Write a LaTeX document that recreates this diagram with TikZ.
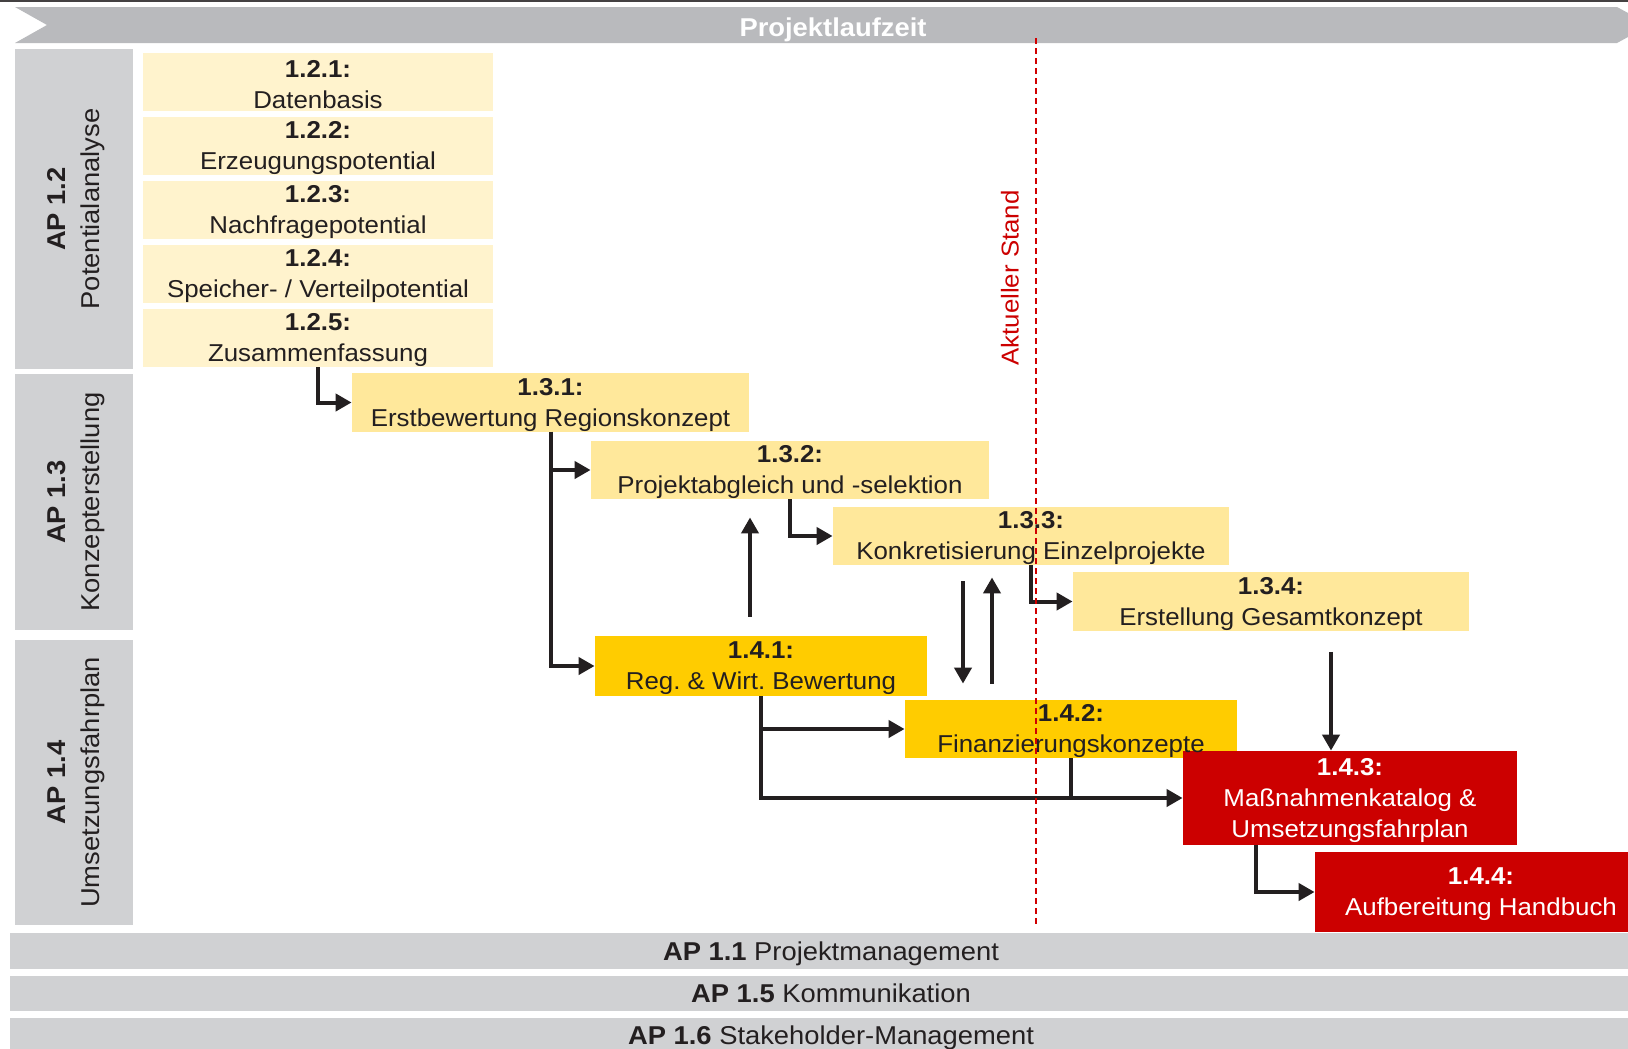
\documentclass[tikz,border=0pt]{standalone}
\usepackage{fontspec}
\setmainfont{Liberation Sans}[FakeStretch=1.06]
\usetikzlibrary{arrows.meta}

\definecolor{ink}{HTML}{231F20}
\definecolor{apgray}{HTML}{D0D1D3}
\definecolor{timegray}{HTML}{B9BABD}
\definecolor{palecol}{HTML}{FFF3CD}
\definecolor{lightcol}{HTML}{FFE89B}
\definecolor{goldcol}{HTML}{FFCC00}
\definecolor{redcol}{HTML}{CC0000}

% bold head line of a box, a bit lower
\newcommand{\wpnum}[1]{\rule{0pt}{11pt}\textbf{#1}}

\begin{document}
\begin{tikzpicture}[x=0.5pt,y=-0.5pt,
  font=\fontsize{12.2}{15.5}\selectfont,
  task/.style={rectangle, inner sep=0pt, align=center, text=ink},
  potbox/.style={task, fill=palecol, minimum width=175pt, minimum height=29pt},
  konbox/.style={task, fill=lightcol, minimum height=28.5pt},
  umsbox/.style={task, fill=goldcol, minimum width=166pt},
  redbox/.style={task, fill=redcol, text=white},
  apbox/.style={rectangle, fill=apgray, inner sep=0pt, align=center, text=ink,
    rotate=90, minimum height=59.25pt, font=\fontsize{12.9}{17}\selectfont},
  barbox/.style={rectangle, fill=apgray, inner sep=0pt, text=ink,
    minimum width=821pt, minimum height=17.5pt, font=\fontsize{12.9}{15}\selectfont,
    text height=12pt, text depth=2.7pt},
  arr/.style={-{Triangle[length=8pt,width=8.5pt]}, line width=2pt, draw=ink},
  ]
 \fill[white] (0,0) rectangle (1628,1049);
 \useasboundingbox (0,0) rectangle (1628,1049);

 % time bar
 \draw[ink!85, line width=1pt] (0,1) -- (1628,1);
 \fill[timegray] (15,7) -- (1617,7) -- (1650,25) -- (1617,43) -- (15,43) -- (47,25) -- cycle;
 \node[text=white, font=\fontsize{12.9}{15}\bfseries, text height=12pt, text depth=1pt] (title) at (833,25) {Projektlaufzeit};

 % work packages
 \node[apbox, minimum width=160pt] (ap12) at (74,209) {\wpnum{AP 1.2}\\Potentialanalyse};
 \node[apbox, minimum width=128pt] (ap13) at (74,502) {\wpnum{AP 1.3}\\Konzepterstellung};
 \node[apbox, minimum width=142.5pt] (ap14) at (74,782.5) {\wpnum{AP 1.4}\\Umsetzungsfahrplan};

 \node[barbox, minimum height=18pt] (ap11) at (831,951) {\textbf{AP 1.1} Projektmanagement};
 \node[barbox] (ap15) at (831,993.5) {\textbf{AP 1.5} Kommunikation};
 \node[barbox] (ap16) at (831,1035.5) {\textbf{AP 1.6} Stakeholder-Management};

 % AP 1.2
 \node[potbox] (n121) at (318,82) {\wpnum{1.2.1:}\\Datenbasis};
 \node[potbox] (n122) at (318,146) {\wpnum{1.2.2:}\\Erzeugungspotential};
 \node[potbox] (n123) at (318,210) {\wpnum{1.2.3:}\\Nachfragepotential};
 \node[potbox] (n124) at (318,274) {\wpnum{1.2.4:}\\Speicher- / Verteilpotential};
 \node[potbox] (n125) at (318,338) {\wpnum{1.2.5:}\\Zusammenfassung};

 % AP 1.3
 \node[konbox, minimum width=198.5pt] (n131) at (550.5,402.5) {\wpnum{1.3.1:}\\Erstbewertung Regionskonzept};
 \node[konbox, minimum width=199pt] (n132) at (790,470) {\wpnum{1.3.2:}\\Projektabgleich und -selektion};
 \node[konbox, minimum width=198pt] (n133) at (1031,536) {\wpnum{1.3.3:}\\Konkretisierung Einzelprojekte};
 \node[konbox, minimum width=198pt] (n134) at (1271,601.5) {\wpnum{1.3.4:}\\Erstellung Gesamtkonzept};

 % AP 1.4
 \node[umsbox, minimum height=30pt] (n141) at (761,666) {\wpnum{1.4.1:}\\Reg.\ \& Wirt.\ Bewertung};
 \node[umsbox, minimum height=29pt] (n142) at (1071,729) {};
 \node[redbox, minimum width=167pt, minimum height=47pt] (n143) at (1350,798) {\wpnum{1.4.3:}\\Maßnahmenkatalog \&\\Umsetzungsfahrplan};
 \node[task] at (n142) {\wpnum{1.4.2:}\\Finanzierungskonzepte};
 \node[redbox, minimum width=166pt, minimum height=40pt] (n144) at (1481,892) {\wpnum{1.4.4:}\\Aufbereitung Handbuch};

 % flow
 \coordinate (upA) at (750,0);
 \coordinate (dnB) at (963,0);
 \coordinate (upB) at (992,0);
 \coordinate (dnC) at (1331,0);
 \coordinate (dnD) at (1256,0);

 \draw[arr] (n125.south) |- (n131.west);
 \draw[arr] (n131.south) |- (n132.west);
 \draw[arr] (n131.south) |- (n141.west);
 \draw[arr] (n132.south) |- (n133.west);
 \draw[arr] (n133.south) |- (n134.west);
 \draw[arr] (n141.south) |- (n142.west);
 \draw[arr] (n141.south) |- (n143.west);
 \draw[arr, -] (n142.south) -- (n142.south |- n143.west);
 \draw[arr, shorten <=9.5pt, shorten >=9pt] (n141.north -| upA) -- (n132.south -| upA);
 \draw[arr, shorten <=8pt, shorten >=8pt] (n133.south -| dnB) -- (n142.north -| dnB);
 \draw[arr, shorten <=8pt, shorten >=6pt] (n142.north -| upB) -- (n133.south -| upB);
 \draw[arr, shorten <=10.5pt] (n134.south -| dnC) -- (n143.north -| dnC);
 \draw[arr] (n143.south -| dnD) |- (n144.west);

 % current state
 \coordinate (standtop) at (1036,38);
 \coordinate (standbot) at (1036,925);
 \draw[redcol!90!red, line width=1pt, dash pattern=on 3pt off 2pt] (standtop) -- (standbot);
 \node[rotate=90, text=redcol] (stand) at (1010,278) {Aktueller Stand};
\end{tikzpicture}
\end{document}
